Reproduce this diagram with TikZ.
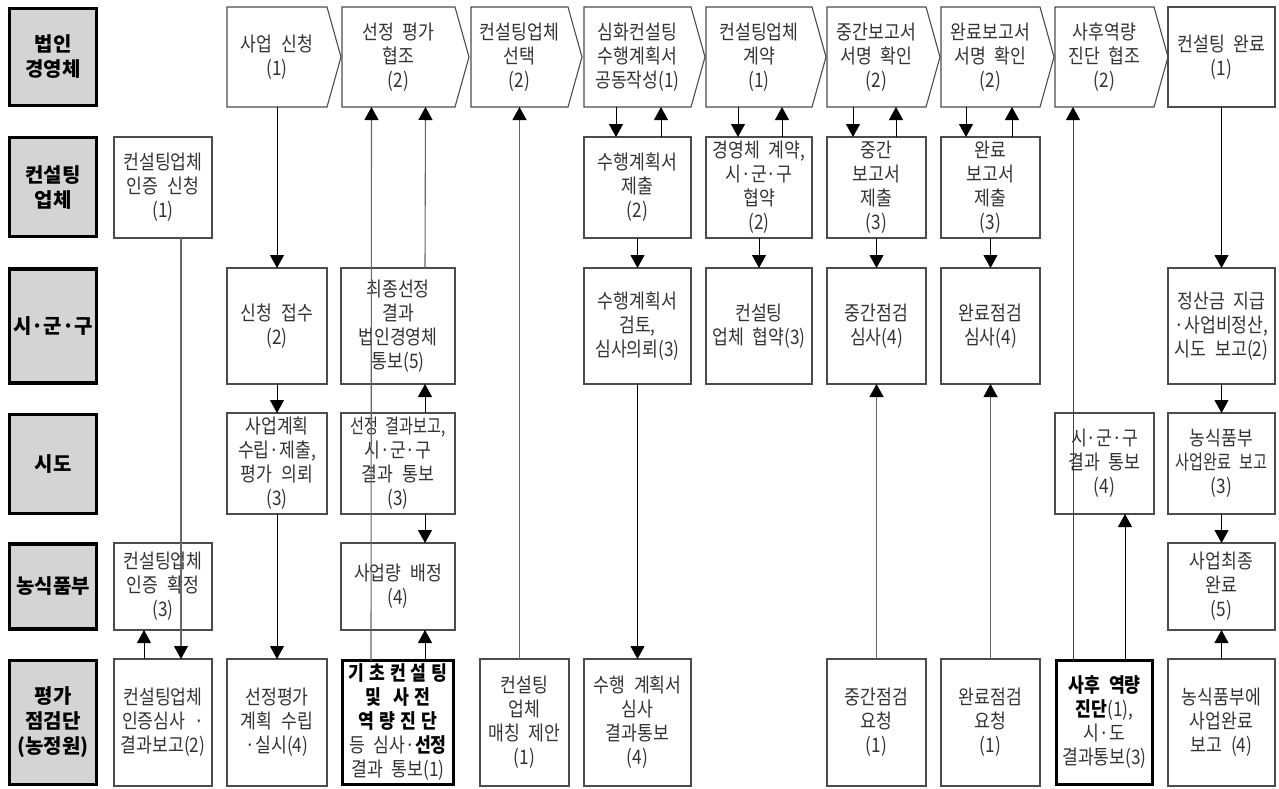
\documentclass[tikz,border=0pt]{standalone}
\usepackage{fontspec}
\usepackage{graphicx}
\setmainfont{Noto Sans CJK KR}[FakeStretch=0.86,WordSpace=2.3]
\newfontfamily\labelfont{Noto Sans CJK KR}[WordSpace=2.2]
\usetikzlibrary{arrows.meta}
\newcommand{\sqz}[1]{\scalebox{0.88}[1]{#1}}
\newcommand{\bk}[1]{\textcolor{black}{\bfseries #1}}
\newcommand{\lsp}{\hspace{5pt}}
\begin{document}
\begin{tikzpicture}[x=1pt,y=-1pt,
    box/.style={draw=black!70,line width=1.1pt,text=black!80,align=center,inner sep=1pt,outer sep=0pt,font=\fontsize{20}{24}\selectfont},
    stage/.style={box,draw=none},
    stageline/.style={draw=black!70,line width=1.1pt},
    thickbox/.style={box,draw=black,line width=3.2pt},
    rowlabel/.style={draw=black,line width=3.4pt,fill=black!17,align=center,outer sep=0pt,minimum width=87pt,font=\labelfont\bfseries\fontsize{20}{25}\selectfont},
    link/.style={line width=0.9pt,-{Triangle[length=13pt,width=14pt,color=black]}},
    longlink/.style={link,line width=1.1pt,draw=black!60},
    darklink/.style={link,line width=1pt,draw=black!75}]
    \useasboundingbox (0,0) rectangle (1279,788);
    %row labels
    \foreach \n/\y/\h/\t in {l1/57/97/{법인\\경영체},l2/187/99/{컨설팅\\업체},l3/326/114/{시·군·구},
        l4/464/99/{시도},l5/586.5/85/{농식품부},l6/722.5/124/{평가\\점검단\\(농정원)}}
        {%
            \node[rowlabel,minimum height=\h pt] (\n) at (53,\y) {\t};
        }
    %row 1
    \node[stage,minimum width=100pt,minimum height=100pt] (n11) at (277,57) {사업 신청\\(1)};
    \node[stage,minimum width=113pt,minimum height=100pt] (n12) at (398.5,57) {선정 평가\\협조\\(2)};
    \node[stage,minimum width=97pt,minimum height=100pt] (n13) at (519.5,57) {컨설팅업체\\선택\\(2)};
    \node[stage,minimum width=107pt,minimum height=100pt] (n14) at (637.5,57) {심화컨설팅\\수행계획서\\공동작성(1)};
    \node[stage,minimum width=106pt,minimum height=100pt] (n15) at (759,57) {컨설팅업체\\계약\\(1)};
    \node[stage,minimum width=99pt,minimum height=100pt] (n16) at (876.5,57) {중간보고서\\서명 확인\\(2)};
    \node[stage,minimum width=99pt,minimum height=100pt] (n17) at (990.5,57) {완료보고서\\서명 확인\\(2)};
    \node[stage,minimum width=99pt,minimum height=100pt] (n18) at (1104.5,57) {사후역량\\진단 협조\\(2)};
    \node[box,minimum width=107pt,minimum height=100pt] (n19) at (1221.5,57) {컨설팅 완료\\(1)};
    \foreach \n in {n11,n12,n13,n14,n15,n16,n17,n18}
        {%
            \draw[stageline] (\n.north west) -- (\n.north east) -- ([xshift=14pt]\n.east) -- (\n.south east) -- (\n.south west) -- cycle;
        }
    %row 2
    \node[box,minimum width=98pt,minimum height=101pt] (n20) at (163,187.5) {컨설팅업체\\인증 신청\\(1)};
    \node[box,minimum width=107pt,minimum height=101pt] (n24) at (637.5,187.5) {수행계획서\\제출\\(2)};
    \node[box,minimum width=106pt,minimum height=101pt] (n25) at (759,187.5) {경영체 계약,\\시·군·구\\협약\\(2)};
    \node[box,minimum width=99pt,minimum height=101pt] (n26) at (876.5,187.5) {중간\\보고서\\제출\\(3)};
    \node[box,minimum width=99pt,minimum height=101pt] (n27) at (990.5,187.5) {완료\\보고서\\제출\\(3)};
    %row 3
    \node[box,minimum width=100pt,minimum height=116pt] (n31) at (277,326) {신청 접수\\(2)};
    \node[box,minimum width=114pt,minimum height=116pt] (n32) at (398,326) {최종선정\\결과\\법인경영체\\통보(5)};
    \node[box,minimum width=107pt,minimum height=116pt] (n34) at (637.5,326) {수행계획서\\검토,\\심사의뢰(3)};
    \node[box,minimum width=106pt,minimum height=116pt] (n35) at (759,326) {컨설팅\\업체 협약(3)};
    \node[box,minimum width=99pt,minimum height=116pt] (n36) at (876.5,326) {중간점검\\심사(4)};
    \node[box,minimum width=99pt,minimum height=116pt] (n37) at (990.5,326) {완료점검\\심사(4)};
    \node[box,minimum width=107pt,minimum height=116pt] (n39) at (1221.5,326) {정산금 지급\\·사업비정산,\\시도 보고(2)};
    %row 4
    \node[box,minimum width=100pt,minimum height=101pt] (n41) at (277,463.5) {사업계획\\수립·제출,\\평가 의뢰\\(3)};
    \node[box,minimum width=114pt,minimum height=101pt] (n42) at (398,463.5) {\sqz{선정 결과보고,}\\시·군·구\\결과 통보\\(3)};
    \node[box,minimum width=99pt,minimum height=101pt] (n48) at (1104.5,463.5) {시·군·구\\결과 통보\\(4)};
    \node[box,minimum width=107pt,minimum height=101pt] (n49) at (1221.5,463.5) {농식품부\\\sqz{사업완료 보고}\\(3)};
    %row 5
    \node[box,minimum width=98pt,minimum height=87pt] (n50) at (163,586.5) {컨설팅업체\\인증 확정\\(3)};
    \node[box,minimum width=114pt,minimum height=87pt] (n52) at (398,586.5) {사업량 배정\\(4)};
    \node[box,minimum width=107pt,minimum height=87pt] (n59) at (1221.5,586.5) {사업최종\\완료\\(5)};
    %row 6
    \node[box,minimum width=98pt,minimum height=127pt] (n60) at (163,722.5) {컨설팅업체\\인증심사 ·\\결과보고(2)};
    \node[box,minimum width=100pt,minimum height=127pt] (n61) at (277,722.5) {선정평가\\계획 수립\\·실시(4)};
    \node[thickbox,minimum width=111pt,minimum height=124pt] (n62) at (398,722.5) {\bk{기\lsp 초\lsp 컨\lsp 설\lsp 팅}\\\bk{및\hspace{12pt}사\lsp 전}\\\bk{역\lsp 량\lsp 진\lsp 단}\\등 심사·\bk{선정}\\결과 통보(1)};
    \node[box,minimum width=89pt,minimum height=127pt] (n63) at (524.5,722.5) {컨설팅\\업체\\매칭 제안\\(1)};
    \node[box,minimum width=107pt,minimum height=127pt] (n64) at (637.5,722.5) {수행 계획서\\심사\\결과통보\\(4)};
    \node[box,minimum width=99pt,minimum height=127pt] (n66) at (876.5,722.5) {중간점검\\요청\\(1)};
    \node[box,minimum width=99pt,minimum height=127pt] (n67) at (990.5,722.5) {완료점검\\요청\\(1)};
    \node[thickbox,minimum width=96pt,minimum height=124pt] (n68) at (1104.5,722.5) {\bk{사후 역량}\\\bk{진단}(1),\\시·도\\결과통보(3)};
    \node[box,minimum width=107pt,minimum height=127pt] (n69) at (1221.5,722.5) {농식품부에\\사업완료\\보고 (4)};
    %draw links
    \draw[link] (n11) -- (n31);
    \draw[link] (n31) -- (n41);
    \draw[link] (n41) -- (n61);
    \draw[longlink] ([xshift=-27pt]n62.north) -- ([xshift=-27pt]n12.south);
    \draw[longlink] ([xshift=27pt]n32.north) -- ([xshift=27pt]n12.south);
    \draw[link] ([xshift=27pt]n42.north) -- ([xshift=27pt]n32.south);
    \draw[link] ([xshift=27pt]n42.south) -- ([xshift=27pt]n52.north);
    \draw[link] ([xshift=27pt]n62.north) -- ([xshift=27pt]n52.south);
    \draw[longlink] ([xshift=18pt]n20.south) -- ([xshift=18pt]n60.north);
    \draw[link] ([xshift=-19pt]n60.north) -- ([xshift=-19pt]n50.south);
    \draw[longlink] (n63.north -| n13.south) -- (n13.south);
    \draw[link] ([xshift=-21.5pt]n14.south) -- ([xshift=-21.5pt]n24.north);
    \draw[link] ([xshift=23.5pt]n24.north) -- ([xshift=23.5pt]n14.south);
    \draw[link] (n24) -- (n34);
    \draw[link] (n34) -- (n64);
    \draw[link] ([xshift=-21pt]n15.south) -- ([xshift=-21pt]n25.north);
    \draw[link] ([xshift=23pt]n25.north) -- ([xshift=23pt]n15.south);
    \draw[link] (n25) -- (n35);
    \draw[link] ([xshift=-23.5pt]n16.south) -- ([xshift=-23.5pt]n26.north);
    \draw[link] ([xshift=19.5pt]n26.north) -- ([xshift=19.5pt]n16.south);
    \draw[link] (n26) -- (n36);
    \draw[longlink] (n66) -- (n36);
    \draw[link] ([xshift=-24.5pt]n17.south) -- ([xshift=-24.5pt]n27.north);
    \draw[link] ([xshift=21.5pt]n27.north) -- ([xshift=21.5pt]n17.south);
    \draw[link] (n27) -- (n37);
    \draw[longlink] (n67) -- (n37);
    \draw[darklink] ([xshift=-31.5pt]n68.north) -- ([xshift=-31.5pt]n18.south);
    \draw[link] ([xshift=20.5pt]n68.north) -- ([xshift=20.5pt]n48.south);
    \draw[link] (n19) -- (n39);
    \draw[link] (n39) -- (n49);
    \draw[link] (n49) -- (n59);
    \draw[link] (n69) -- (n59);
\end{tikzpicture}
\end{document}
